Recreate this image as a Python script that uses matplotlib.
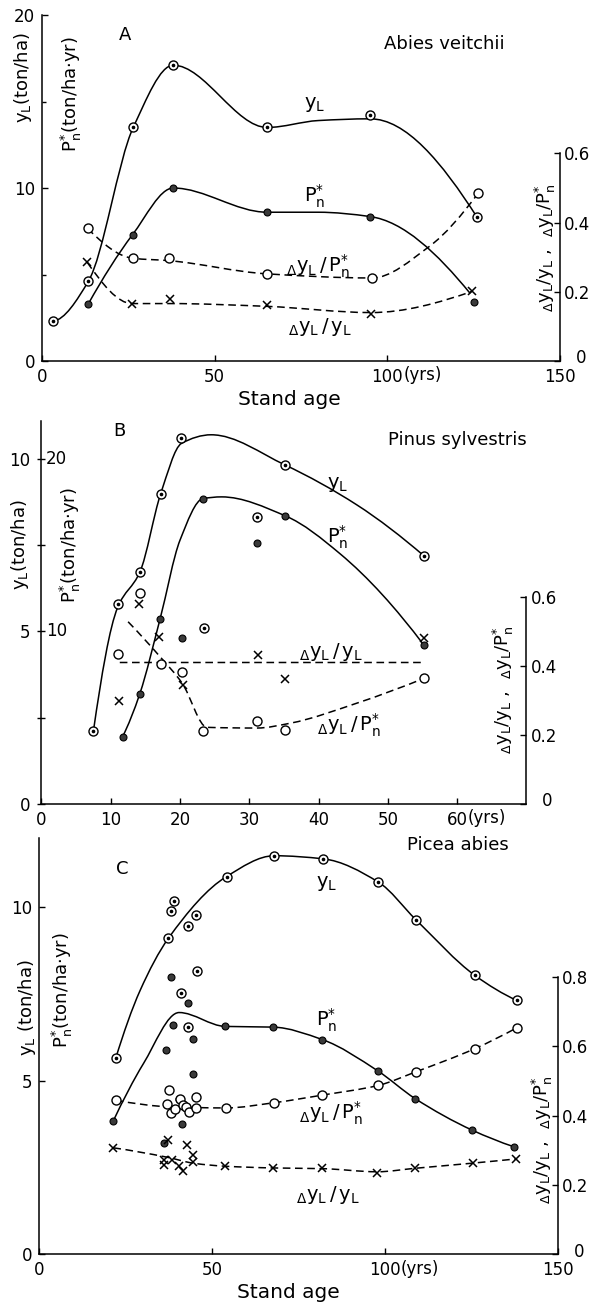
import matplotlib
matplotlib.use('Agg')
import matplotlib.pyplot as plt
import numpy as np
from matplotlib.path import Path
from matplotlib.patches import PathPatch

plt.rcParams['font.family'] = 'DejaVu Sans'
plt.rcParams['mathtext.default'] = 'regular'

# ---------------- A : Abies veitchii ----------------
a_yl_x = [3.2, 13.4, 26.4, 38.0, 65.2, 95.0, 126.0]
a_yl = [2.3, 4.6, 13.5, 17.1, 13.5, 14.2, 8.3]
a_yl_cx = [3.2, 13.4, 26.4, 38.0, 65.2, 80.0, 95.0, 126.0]
a_yl_cy = [2.3, 4.6, 13.5, 17.1, 13.5, 13.9, 14.0, 8.3]
a_pn_x = [13.4, 26.2, 38.0, 65.2, 95.0, 125.0]
a_pn = [3.3, 7.3, 10.0, 8.6, 8.35, 3.4]
a_pn_cx = [13.4, 26.2, 38.0, 65.2, 80.0, 95.0, 124.0]
a_pn_cy = [3.3, 7.3, 10.0, 8.6, 8.6, 8.35, 3.9]
a_dp_x = [13.2, 26.2, 36.8, 65.0, 95.5, 126.3]
a_dp = [0.383, 0.297, 0.297, 0.252, 0.240, 0.485]
a_dp_cx = [13.2, 26.2, 36.8, 65.0, 95.5, 112.0, 126.3]
a_dp_cy = [0.383, 0.297, 0.29, 0.252, 0.240, 0.33, 0.485]
a_dy_x = [13.1, 26.1, 37.0, 65.0, 95.3, 124.5]
a_dy = [0.285, 0.164, 0.178, 0.161, 0.137, 0.201]
a_dy_cy = [0.285, 0.166, 0.166, 0.158, 0.14, 0.201]

# ---------------- B : Pinus sylvestris ----------------
b_yl_x = [7.5, 11.0, 14.2, 17.2, 20.2, 23.5, 31.1, 35.1, 55.2]
b_yl = [2.12, 5.8, 6.72, 8.99, 10.6, 5.09, 8.33, 9.83, 7.19]
b_yl_cx = [7.5, 11.0, 14.2, 17.2, 20.2, 24.5, 35.1, 45.5, 55.2]
b_yl_cy = [2.12, 5.7, 6.72, 8.99, 10.45, 10.7, 9.83, 8.67, 7.19]
b_pn_x = [11.7, 14.2, 17.1, 20.3, 23.3, 31.1, 35.2, 55.2]
b_pn = [3.9, 6.4, 10.7, 9.6, 17.7, 15.1, 16.7, 9.2]
b_pn_cx = [11.7, 14.2, 17.1, 20.0, 23.3, 26.0, 35.2, 43.1, 55.2]
b_pn_cy = [3.9, 6.4, 10.7, 15.3, 17.7, 17.8, 16.7, 14.5, 9.2]
b_dp_x = [11.1, 14.2, 17.2, 20.3, 23.3, 31.1, 35.2, 55.2]
b_dp = [0.434, 0.612, 0.405, 0.382, 0.21, 0.241, 0.214, 0.364]
b_dp_cx = [12.5, 17.1, 20.3, 23.9, 31.1, 35.9, 45.5, 55.2]
b_dp_cy = [0.528, 0.427, 0.35, 0.222, 0.22, 0.234, 0.292, 0.364]
b_dy_x = [11.2, 14.1, 17.0, 20.4, 31.2, 35.2, 55.2]
b_dy = [0.297, 0.579, 0.483, 0.345, 0.432, 0.361, 0.48]
b_dy_cx = [11.3, 55.2]
b_dy_cy = [0.41, 0.41]

# ---------------- C : Picea abies ----------------
c_yl_x = [22.2, 37.4, 38.1, 39.1, 41.0, 43.0, 43.2, 45.3, 45.6, 54.2, 68.0,
          82.2, 98.1, 108.9, 126.0, 138.1]
c_yl = [5.66, 9.11, 9.89, 10.19, 7.53, 9.47, 6.55, 9.79, 8.16, 10.89, 11.49,
        11.4, 10.73, 9.65, 8.04, 7.32]
c_yl_cx = [22.2, 29.2, 37.4, 54.2, 68.0, 82.2, 98.1, 108.9, 126.0, 138.1]
c_yl_cy = [5.66, 7.6, 9.11, 10.89, 11.49, 11.4, 10.73, 9.65, 8.04, 7.32]
c_pn_x = [21.5, 36.2, 36.7, 38.2, 38.8, 40.5, 41.4, 43.2, 44.6, 44.6, 53.8,
          67.7, 81.9, 97.9, 108.7, 125.2, 137.3]
c_pn = [3.85, 3.2, 5.88, 7.99, 6.62, 4.49, 3.77, 7.25, 6.2, 5.19, 6.57,
        6.55, 6.19, 5.29, 4.49, 3.58, 3.1]
c_pn_cx = [21.5, 30.2, 40.5, 53.8, 67.7, 81.9, 97.9, 108.7, 125.2, 137.3]
c_pn_cy = [3.85, 5.5, 6.97, 6.57, 6.55, 6.19, 5.29, 4.49, 3.58, 3.1]
c_dp_x = [22.2, 37.7, 37.1, 38.2, 39.3, 40.8, 41.7, 42.4, 43.4, 45.4, 45.4,
          54.0, 67.9, 81.9, 98.1, 108.9, 126.0, 138.1]
c_dp = [0.444, 0.473, 0.433, 0.408, 0.42, 0.449, 0.43, 0.425, 0.41, 0.454,
        0.422, 0.422, 0.437, 0.459, 0.487, 0.526, 0.593, 0.653]
c_dp_cx = [22.2, 38.0, 54.0, 67.9, 81.9, 98.1, 108.9, 126.0, 138.1]
c_dp_cy = [0.444, 0.425, 0.422, 0.437, 0.459, 0.487, 0.526, 0.593, 0.653]
c_dy_x = [21.5, 37.3, 36.2, 36.2, 38.5, 40.5, 41.7, 42.9, 44.6, 44.6, 53.8,
          67.7, 81.9, 97.8, 108.7, 125.5, 137.9]
c_dy = [0.307, 0.329, 0.273, 0.257, 0.271, 0.255, 0.24, 0.315, 0.286, 0.267,
        0.254, 0.248, 0.248, 0.234, 0.248, 0.263, 0.275]
c_dy_cx = [21.5, 37.0, 45.0, 53.8, 67.7, 81.9, 97.8, 108.7, 125.5, 137.9]
c_dy_cy = [0.307, 0.28, 0.262, 0.254, 0.249, 0.247, 0.238, 0.248, 0.263, 0.275]

YL = r'$y_L$'
PN = r'$P_n^{*}$'
DY = r'${}_{\Delta}y_L\,/\,y_L$'
DP = r'${}_{\Delta}y_L\,/\,P_n^{*}$'
RLAB = r'${}_{\Delta}y_L/y_L$ ,  ${}_{\Delta}y_L/P_n^{*}$'


def end_slope(h0, h1, d0, d1):
    m = ((2 * h0 + h1) * d0 - h0 * d1) / (h0 + h1)
    if np.sign(m) != np.sign(d0):
        m = 0.0
    elif np.sign(d0) != np.sign(d1) and abs(m) > abs(3 * d0):
        m = 3 * d0
    return m


def smooth(ax, xs, ys, dashed=False):
    # monotone cubic through the hand-drawn curve anchors, as a bezier path
    x = np.asarray(xs, float)
    y = np.asarray(ys, float)
    h = np.diff(x)
    d = np.diff(y) / h
    n = len(x)
    m = np.zeros(n)
    if n == 2:
        m[:] = d[0]
    else:
        for k in range(1, n - 1):
            if d[k - 1] * d[k] > 0:
                w1 = 2 * h[k] + h[k - 1]
                w2 = h[k] + 2 * h[k - 1]
                m[k] = (w1 + w2) / (w1 / d[k - 1] + w2 / d[k])
        m[0] = end_slope(h[0], h[1], d[0], d[1])
        m[-1] = end_slope(h[-1], h[-2], d[-1], d[-2])
    verts = [(x[0], y[0])]
    codes = [Path.MOVETO]
    for k in range(n - 1):
        verts += [(x[k] + h[k] / 3, y[k] + m[k] * h[k] / 3),
                  (x[k + 1] - h[k] / 3, y[k + 1] - m[k + 1] * h[k] / 3),
                  (x[k + 1], y[k + 1])]
        codes += [Path.CURVE4] * 3
    ls = (0, (5, 3)) if dashed else '-'
    ax.add_patch(PathPatch(Path(verts, codes), fill=False, lw=1.1, ls=ls,
                           ec='k', zorder=3))


def dotcirc(ax, x, y):
    ax.plot(x, y, 'o', ms=6.5, mfc='white', mec='k', mew=1.0, ls='none', zorder=5)
    ax.plot(x, y, 'o', ms=1.6, color='k', ls='none', zorder=6)


def dot(ax, x, y):
    ax.plot(x, y, 'o', ms=5, mfc='#3a3a3a', mec='k', mew=0.8, ls='none', zorder=5)


def circ(ax, x, y):
    ax.plot(x, y, 'o', ms=6.5, mfc='white', mec='k', mew=1.0, ls='none', zorder=5)


def cross(ax, x, y):
    ax.plot(x, y, 'x', ms=6, mec='k', mew=1.1, ls='none', zorder=5)


def frame(ax, r, rtop, rticks):
    ax.spines['top'].set_visible(False)
    ax.spines['right'].set_visible(False)
    for s in ['top', 'left', 'bottom']:
        r.spines[s].set_visible(False)
    r.spines['right'].set_bounds(0, rtop)
    ax.tick_params(direction='in', length=4, width=1, labelsize=12, pad=5)
    ax.tick_params(which='minor', direction='in', length=3, width=1)
    r.set_yticks(rticks)
    r.set_yticklabels([''] + ['%.1f' % t for t in rticks[1:]])
    r.tick_params(direction='in', length=4, width=1, labelsize=12, pad=3)
    r.annotate('0', xy=(1, 0), xycoords='axes fraction', xytext=(15, 2),
               textcoords='offset points', ha='center', va='center',
               fontsize=12)
    for s in ['left', 'bottom']:
        ax.spines[s].set_linewidth(1.1)
    r.spines['right'].set_linewidth(1.1)


def yrs(ax, x, dx):
    ax.annotate('(yrs)', xy=(x, 0), xycoords=('data', 'axes fraction'),
                xytext=(dx, -14), textcoords='offset points', ha='left',
                va='baseline', fontsize=12)


fig = plt.figure(figsize=(5.97, 13.07), dpi=100)

# ---------- panel A ----------
ax = fig.add_axes([0.0704, 0.7238, 0.8677, 0.2647])
ax.set_xlim(0, 150)
ax.set_ylim(0, 20)
r = ax.twinx()
r.set_ylim(0, 1.0)
smooth(ax, a_yl_cx, a_yl_cy)
smooth(ax, a_pn_cx, a_pn_cy)
smooth(r, a_dp_cx, a_dp_cy, dashed=True)
smooth(r, a_dy_x, a_dy_cy, dashed=True)
dotcirc(ax, a_yl_x, a_yl)
dot(ax, a_pn_x, a_pn)
circ(r, a_dp_x, a_dp)
cross(r, a_dy_x, a_dy)
ax.set_xticks([0, 50, 100, 150])
ax.set_yticks([0, 10, 20])
ax.set_yticks([5, 15], minor=True)
frame(ax, r, 0.6, [0, 0.2, 0.4, 0.6])
yrs(ax, 100, 11.5)
ax.text(24, 18.85, 'A', fontsize=13, ha='center', va='center')
ax.text(116.5, 18.3, 'Abies veitchii', fontsize=13, ha='center', va='center')
ax.text(79, 14.8, YL, fontsize=14, ha='center', va='center')
ax.text(79, 9.5, PN, fontsize=14, ha='center', va='center')
ax.text(80, 5.5, DP, fontsize=14, ha='center', va='center')
ax.text(80.5, 1.95, DY, fontsize=14, ha='center', va='center')
ax.text(-0.037, 0.82, YL + '(ton/ha)', transform=ax.transAxes, rotation=90,
        fontsize=13, ha='center', va='center')
ax.text(0.056, 0.77, PN + '(ton/ha$\\cdot$yr)', transform=ax.transAxes,
        rotation=90, fontsize=13, ha='center', va='center')
ax.text(0.971, 0.327, RLAB, transform=ax.transAxes, rotation=90,
        fontsize=13, ha='center', va='center')
ax.set_xlabel('Stand age', fontsize=14.5, labelpad=4)
ax.xaxis.set_label_coords(0.477, -0.085)

# ---------- panel B ----------
ax = fig.add_axes([0.0695, 0.3849, 0.8124, 0.2930])
ax.set_xlim(0, 70)
ax.set_ylim(0, 11.1)
p = ax.twinx()
p.set_ylim(0, 22.2)
p.axis('off')
r = ax.twinx()
r.set_ylim(0, 1.11)
smooth(ax, b_yl_cx, b_yl_cy)
smooth(p, b_pn_cx, b_pn_cy)
smooth(r, b_dp_cx, b_dp_cy, dashed=True)
smooth(r, b_dy_cx, b_dy_cy, dashed=True)
dotcirc(ax, b_yl_x, b_yl)
dot(p, b_pn_x, b_pn)
circ(r, b_dp_x, b_dp)
cross(r, b_dy_x, b_dy)
ax.set_xticks([0, 10, 20, 30, 40, 50, 60])
ax.set_yticks([0, 5, 10])
ax.set_yticks([2.5, 7.5], minor=True)
frame(ax, r, 0.6, [0, 0.2, 0.4, 0.6])
ax.tick_params(axis='y', which='both', direction='inout', length=6)
yrs(ax, 60, 7.8)
for v in [10, 20]:
    p.annotate(str(v), xy=(0, v), xycoords=('axes fraction', 'data'),
               xytext=(3, 0), textcoords='offset points', ha='left',
               va='center', fontsize=12)
ax.text(11.3, 10.8, 'B', fontsize=13, ha='center', va='center')
ax.text(60, 10.55, 'Pinus sylvestris', fontsize=13, ha='center', va='center')
ax.text(42.7, 9.25, YL, fontsize=14, ha='center', va='center')
ax.text(42.7, 7.74, PN, fontsize=14, ha='center', va='center')
ax.text(41.8, 4.4, DY, fontsize=14, ha='center', va='center')
ax.text(44.4, 2.29, DP, fontsize=14, ha='center', va='center')
ax.text(-0.044, 0.676, YL + '(ton/ha)', transform=ax.transAxes, rotation=90,
        fontsize=13, ha='center', va='center')
ax.text(0.059, 0.676, PN + '(ton/ha$\\cdot$yr)', transform=ax.transAxes,
        rotation=90, fontsize=13, ha='center', va='center')
ax.text(0.952, 0.298, RLAB, transform=ax.transAxes, rotation=90,
        fontsize=13, ha='center', va='center')

# ---------- panel C ----------
ax = fig.add_axes([0.0653, 0.0403, 0.8693, 0.3185])
ax.set_xlim(0, 150)
ax.set_ylim(0, 12)
r = ax.twinx()
r.set_ylim(0, 1.2)
smooth(ax, c_yl_cx, c_yl_cy)
smooth(ax, c_pn_cx, c_pn_cy)
smooth(r, c_dp_cx, c_dp_cy, dashed=True)
smooth(r, c_dy_cx, c_dy_cy, dashed=True)
dotcirc(ax, c_yl_x, c_yl)
dot(ax, c_pn_x, c_pn)
circ(r, c_dp_x, c_dp)
cross(r, c_dy_x, c_dy)
ax.set_xticks([0, 50, 100, 150])
ax.set_yticks([0, 5, 10])
frame(ax, r, 0.8, [0, 0.2, 0.4, 0.6, 0.8])
yrs(ax, 100, 11.5)
ax.text(24, 11.12, 'C', fontsize=13, ha='center', va='center')
ax.text(121, 11.8, 'Picea abies', fontsize=13, ha='center', va='center')
ax.text(83.2, 10.7, YL, fontsize=14, ha='center', va='center')
ax.text(83.2, 6.75, PN, fontsize=14, ha='center', va='center')
ax.text(84.4, 4.07, DP, fontsize=14, ha='center', va='center')
ax.text(83.5, 1.7, DY, fontsize=14, ha='center', va='center')
ax.text(-0.023, 0.592, YL + ' (ton/ha)', transform=ax.transAxes, rotation=90,
        fontsize=13, ha='center', va='center')
ax.text(0.046, 0.635, PN + '(ton/ha$\\cdot$yr)', transform=ax.transAxes,
        rotation=90, fontsize=13, ha='center', va='center')
ax.text(0.971, 0.275, RLAB, transform=ax.transAxes, rotation=90,
        fontsize=13, ha='center', va='center')
ax.set_xlabel('Stand age', fontsize=14.5, labelpad=4)
ax.xaxis.set_label_coords(0.48, -0.07)

fig.savefig('out.png', dpi=100)
